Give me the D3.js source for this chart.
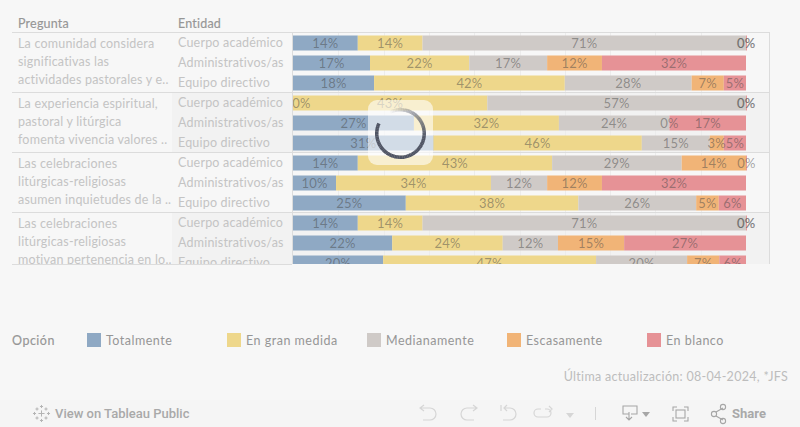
<!DOCTYPE html>
<html><head><meta charset="utf-8">
<script src="https://cdn.jsdelivr.net/npm/d3@7"></script>
<style>
html,body{margin:0;padding:0;background:#f7f7f7;overflow:hidden}
svg{display:block}
text{font-family:Lato,sans-serif}
</style></head><body>
<svg id="c" width="800" height="427"></svg>
<script>
const questions = [
  ["La comunidad considera","significativas las","actividades pastorales y e.."],
  ["La experiencia espiritual,","pastoral y litúrgica","fomenta vivencia valores .."],
  ["Las celebraciones","litúrgicas-religiosas","asumen inquietudes de la .."],
  ["Las celebraciones","litúrgicas-religiosas","motivan pertenencia en lo.."]
];
const entities = ["Cuerpo académico","Administrativos/as","Equipo directivo"];
const options = ["Totalmente","En gran medida","Medianamente","Escasamente","En blanco"];
const colors = ["#8fa9c4","#eed78b","#cfcac7","#f1b477","#e69296"];
const totalmente   = [14.3,17,17.9, 0,26.7,31, 14.3,9.5,24.9, 14.3,21.9,19.9];
const enGranMedida = [14.3,21.9,42.1, 42.9,32,46, 42.9,34.2,38.1, 14.3,24.4,47];
const medianamente = [71.4,17.2,28, 57.1,24.4,15, 28.6,12.4,26, 71.4,12.2,20.1];
const escasamente  = [0,12.1,7.1, 0,0,3.1, 14.2,12.1,5, 0,14.6,7.1];
const enBlanco     = [0.2,31.8,4.9, 0.2,16.9,4.9, 0.2,31.8,6, 0.2,26.9,5.9];
const seriesValues = [totalmente,enGranMedida,medianamente,escasamente,enBlanco];
const footerNote = "Última actualización: 08-04-2024, *JFS";

const svg = d3.select("#c");
const x = d3.scaleLinear().domain([0,100]).range([293,746]);
const rowIdx = d3.range(12);
const y = d3.scaleBand().domain(rowIdx).range([33,273]).paddingInner(0.25).paddingOuter(0.125);
const groupTop = i => 32.5 + 60*i;
const TXT_L="#c4c4c4", TXT_H="#969696";
const font = {ls:"0.2px", size:"12.5px"};

svg.append("defs").append("clipPath").attr("id","view").append("rect")
  .attr("x",0).attr("y",33).attr("width",800).attr("height",231);

const view = svg.append("g").attr("clip-path","url(#view)");

view.selectAll("rect.band").data([1,3]).join("rect").attr("class","band")
  .attr("x",172).attr("width",598).attr("y",d=>groupTop(d)).attr("height",60).attr("fill","#f2f2f2");

view.selectAll("line.grid").data(x.ticks(10).slice(1,-1)).join("line").attr("class","grid")
  .attr("x1",d=>Math.round(x(d))+.5).attr("x2",d=>Math.round(x(d))+.5).attr("y1",33).attr("y2",264)
  .attr("stroke","#ececec");

const stackData = rowIdx.map(i=>{
  let acc=0;
  return seriesValues.map((s,k)=>{const r={row:i,k,v:s[i],x0:acc,x1:acc+s[i]};acc+=s[i];return r;});
}).flat();
view.selectAll("rect.bar").data(stackData.filter(d=>d.v>0)).join("rect").attr("class","bar")
  .attr("x",d=>x(d.x0)).attr("width",d=>x(d.x1)-x(d.x0))
  .attr("y",d=>y(d.row)).attr("height",y.bandwidth()).attr("fill",d=>colors[d.k]);

view.selectAll("text.val").data(stackData).join("text").attr("class","val")
  .attr("x",d=>Math.max(x((d.x0+d.x1)/2),301.5))
  .attr("y",d=>y(d.row)+y.bandwidth()/2+4.6)
  .attr("text-anchor","middle").attr("font-size","13px").attr("letter-spacing","0.2px")
  .attr("fill","rgb(70,70,70)").attr("fill-opacity",0.48)
  .text(d=>Math.round(d.v)+"%");

view.selectAll("text.ent").data(rowIdx).join("text").attr("class","ent")
  .attr("x",178).attr("y",d=>y(d)+y.bandwidth()/2+4.3)
  .attr("font-size",font.size).attr("letter-spacing",font.ls).attr("fill",TXT_L)
  .text(d=>entities[d%3]);

questions.forEach((q,i)=>{
  view.selectAll("text.q"+i).data(q).join("text").attr("class","q"+i)
    .attr("x",18).attr("y",(d,j)=>groupTop(i)+15+18*j)
    .attr("font-size",font.size).attr("letter-spacing",font.ls).attr("fill",TXT_L).text(d=>d);
});

const rule="#dcdcdc";
svg.selectAll("line.sep").data([0,1,2,3]).join("line").attr("class","sep")
  .attr("x1",12).attr("x2",770).attr("y1",d=>groupTop(d)).attr("y2",d=>groupTop(d))
  .attr("stroke",rule);
svg.append("line").attr("x1",12).attr("x2",292).attr("y1",264.5).attr("y2",264.5).attr("stroke",rule);
svg.append("line").attr("x1",292.5).attr("x2",292.5).attr("y1",33).attr("y2",264).attr("stroke",rule);
svg.append("line").attr("x1",769.5).attr("x2",769.5).attr("y1",33).attr("y2",264).attr("stroke",rule);

svg.selectAll("text.hd").data([["Pregunta",18],["Entidad",178]]).join("text").attr("class","hd")
  .attr("x",d=>d[1]).attr("y",28).attr("font-size",font.size).attr("letter-spacing",font.ls)
  .attr("fill",TXT_H).attr("stroke",TXT_H).attr("stroke-width",0.15).text(d=>d[0]);

svg.append("text").attr("x",12).attr("y",345).attr("font-size",font.size).attr("letter-spacing","0.5px")
  .attr("fill",TXT_H).attr("stroke",TXT_H).attr("stroke-width",0.15).text("Opción");
const lg = svg.selectAll("g.lg").data(options).join("g").attr("class","lg")
  .attr("transform",(d,i)=>`translate(${87+140*i},333)`);
lg.append("rect").attr("width",14).attr("height",14).attr("fill",(d,i)=>colors[i]);
lg.append("text").attr("x",19).attr("y",12).attr("font-size",font.size)
  .attr("letter-spacing","0.5px").attr("fill","#969696").text(d=>d);

svg.append("text").attr("x",788).attr("y",381).attr("text-anchor","end").attr("font-size",font.size)
  .attr("letter-spacing","0.3px").attr("fill","#bdbdbd").text(footerNote);

// toolbar
svg.append("rect").attr("x",0).attr("y",400).attr("width",800).attr("height",27).attr("fill","#f5f5f5");
svg.append("text").attr("x",55).attr("y",418).attr("font-size","13px").attr("font-weight",500)
  .style("font-family","Roboto,sans-serif").attr("fill","#a9a9a9").text("View on Tableau Public");
svg.append("text").attr("x",732).attr("y",418).attr("font-size","13px").attr("font-weight",700)
  .style("font-family","Roboto,sans-serif").attr("fill","#a9a9a9").text("Share");
const ic = svg.append("g").attr("fill","none").attr("stroke","#d6d6d6").attr("stroke-width",1.2);
ic.append("path").attr("d","M421 408h9a6 6 0 0 1 0 12h-7M424 405l-4 3 4 3");
ic.append("path").attr("d","M476 408h-9a6 6 0 0 0 0 12h7M473 405l4 3-4 3");
ic.append("path").attr("d","M501 405v6M504 408h6a6 6 0 0 1 0 12h-7M507 405l-3 3 3 3");
ic.append("path").attr("d","M541 409h-3a4 4 0 0 0 0 8h9a4 4 0 0 0 0-8h-2M549 406l3 3-3 3");
svg.append("path").attr("d","M566 413h8l-4 5z").attr("fill","#d6d6d6");
svg.append("line").attr("x1",595.5).attr("x2",595.5).attr("y1",407).attr("y2",420).attr("stroke","#d6d6d6");
const ic2 = svg.append("g").attr("fill","none").attr("stroke","#a6a6a6").attr("stroke-width",1.1);
ic2.append("path").attr("d","M629 414h-6v-8h14v8h-6M629 412v8M626 417l3 3 3-3");
ic2.append("path").attr("d","M673 411v-4h4M684 407h4v4M688 417v4h-4M677 421h-4v-4");
ic2.append("rect").attr("x",676).attr("y",410).attr("width",9).attr("height",8);
ic2.append("path").attr("d","M716 412l7-4M716 416l7 4");
[[714,414],[723,407],[723,421]].forEach(p=>ic2.append("circle").attr("cx",p[0]).attr("cy",p[1]).attr("r",2.6));
svg.append("path").attr("d","M642 412h8l-4 5z").attr("fill","#a6a6a6");
const lo = svg.append("g").attr("stroke","#b4b4b4").attr("stroke-width",1).attr("transform","translate(41.5,413.5)");
[[0,0,4],[-4.5,-4.5,2],[4.5,-4.5,2],[-4.5,4.5,2],[4.5,4.5,2],[0,-7,2],[0,7,2],[-7,0,2],[7,0,2]].forEach(([a,b,s])=>{
  lo.append("line").attr("x1",a-s/1.3).attr("x2",a+s/1.3).attr("y1",b).attr("y2",b);
  lo.append("line").attr("x1",a).attr("x2",a).attr("y1",b-s/1.3).attr("y2",b+s/1.3);
});

// loading spinner overlay
svg.append("rect").attr("x",368).attr("y",100).attr("width",65).attr("height",65).attr("rx",9)
  .attr("fill","#fff").attr("fill-opacity",0.6);
const sp = svg.append("g").attr("transform","translate(400.5,133.5)");
const arc = d3.arc().innerRadius(22).outerRadius(25.5);
const N=80, head=-65*Math.PI/180, sweep=-320*Math.PI/180;
d3.range(N).forEach(i=>{
  const t=i/N;
  const a0=head+sweep*t, a1=head+sweep*(t+1/N)-0.01;
  sp.append("path").attr("d",arc({startAngle:Math.min(a0,a1),endAngle:Math.max(a0,a1)}))
    .attr("fill","#505564").attr("fill-opacity",t<0.6?1:Math.max(0,1-(t-0.6)/0.4));
});
</script>
</body></html>
